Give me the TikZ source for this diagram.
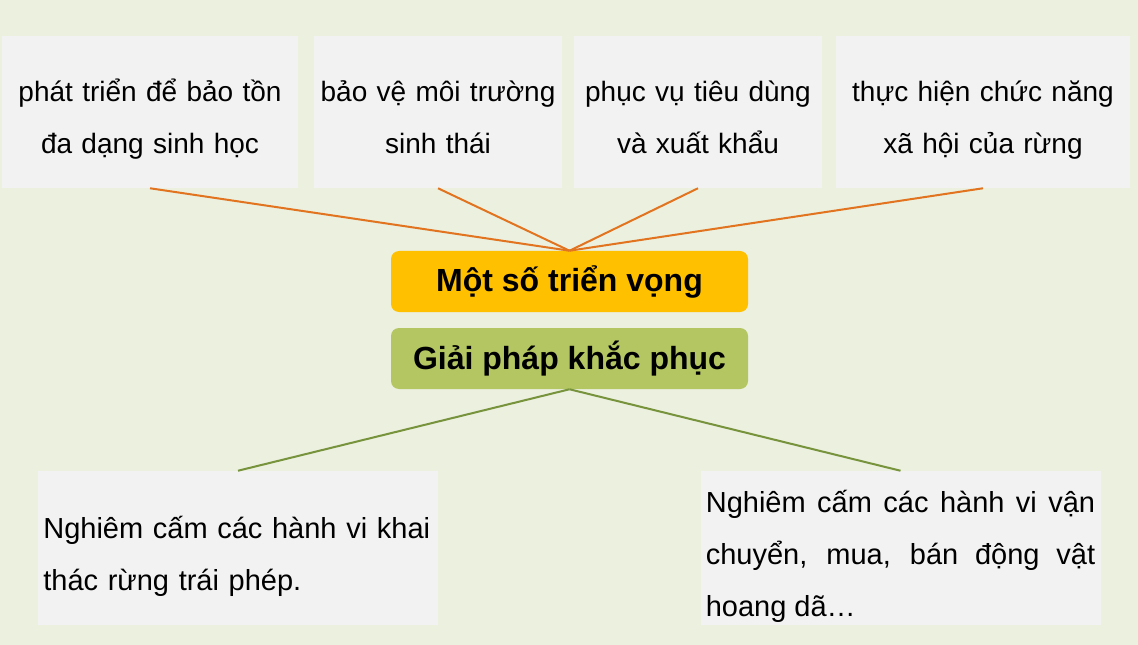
\documentclass[tikz,border=0pt]{standalone}
\usepackage{fontspec}
\setmainfont{Liberation Sans}
\usetikzlibrary{positioning}
\definecolor{bgcol}{HTML}{EBF0DF}
\definecolor{boxgray}{HTML}{F2F2F2}
\definecolor{prospect}{HTML}{FFC000}
\definecolor{remedy}{HTML}{B3C661}
\definecolor{orangeline}{HTML}{E2731F}
\definecolor{greenline}{HTML}{77933C}
\newcommand{\firstline}[1]{\rule{0pt}{#1}}
\newcommand{\lastline}{\rule[-6pt]{0pt}{6pt}}
\begin{document}
\begin{tikzpicture}[x=0.75pt,y=-0.75pt,
    aimbox/.style={fill=boxgray, inner sep=0pt, minimum height=114pt,
                   align=center, font=\fontsize{21pt}{39pt}\selectfont},
    headbox/.style={rounded corners=6pt, minimum width=267.75pt, minimum height=45.75pt,
                    font=\fontsize{24pt}{27pt}\selectfont\bfseries},
    lowbox/.style={fill=boxgray, inner xsep=4pt, inner ysep=0pt, text width=292pt,
                   minimum height=115.5pt, font=\fontsize{21.75pt}{39pt}\selectfont}]
\fill[bgcol] (0,0) rectangle (1138,645);
\useasboundingbox (0,0) rectangle (1138,645);
% muc tieu phia tren
\node[aimbox, text width=222pt] (bt) at (150,112) {\firstline{29pt}phát triển để bảo tồn\\đa dạng sinh học\lastline};
\node[aimbox, text width=186pt] (mt) at (438,112) {\firstline{29pt}bảo vệ môi trường\\sinh thái\lastline};
\node[aimbox, text width=186pt] (td) at (698,112) {\firstline{29pt}phục vụ tiêu dùng\\và xuất khẩu\lastline};
\node[aimbox, text width=220.5pt] (xh) at (983,112) {\firstline{29pt}thực hiện chức năng\\xã hội của rừng\lastline};
% hai o giua
\node[headbox, fill=prospect] (tv) at (569.5,281.5) {Một số triển vọng};
\node[headbox, fill=remedy] (gp) at (569.5,358.5) {Giải pháp khắc phục};
% giai phap phia duoi
\node[lowbox, align=left] (kt) at (238,548) {\firstline{29pt}Nghiêm cấm các hành vi khai\\thác rừng trái phép.};
\node[lowbox, align=justify] (dv) at (900.5,548) {\firstline{30pt}Nghiêm cấm các hành vi vận\linebreak chuyển, mua, bán động vật\linebreak hoang dã…};
\foreach \n in {bt,mt,td,xh}
  \draw[orangeline, line width=1.5pt] (\n.south) -- (tv.north);
\foreach \n in {kt,dv}
  \draw[greenline, line width=1.5pt] (gp.south) -- (\n.north);
\end{tikzpicture}
\end{document}
